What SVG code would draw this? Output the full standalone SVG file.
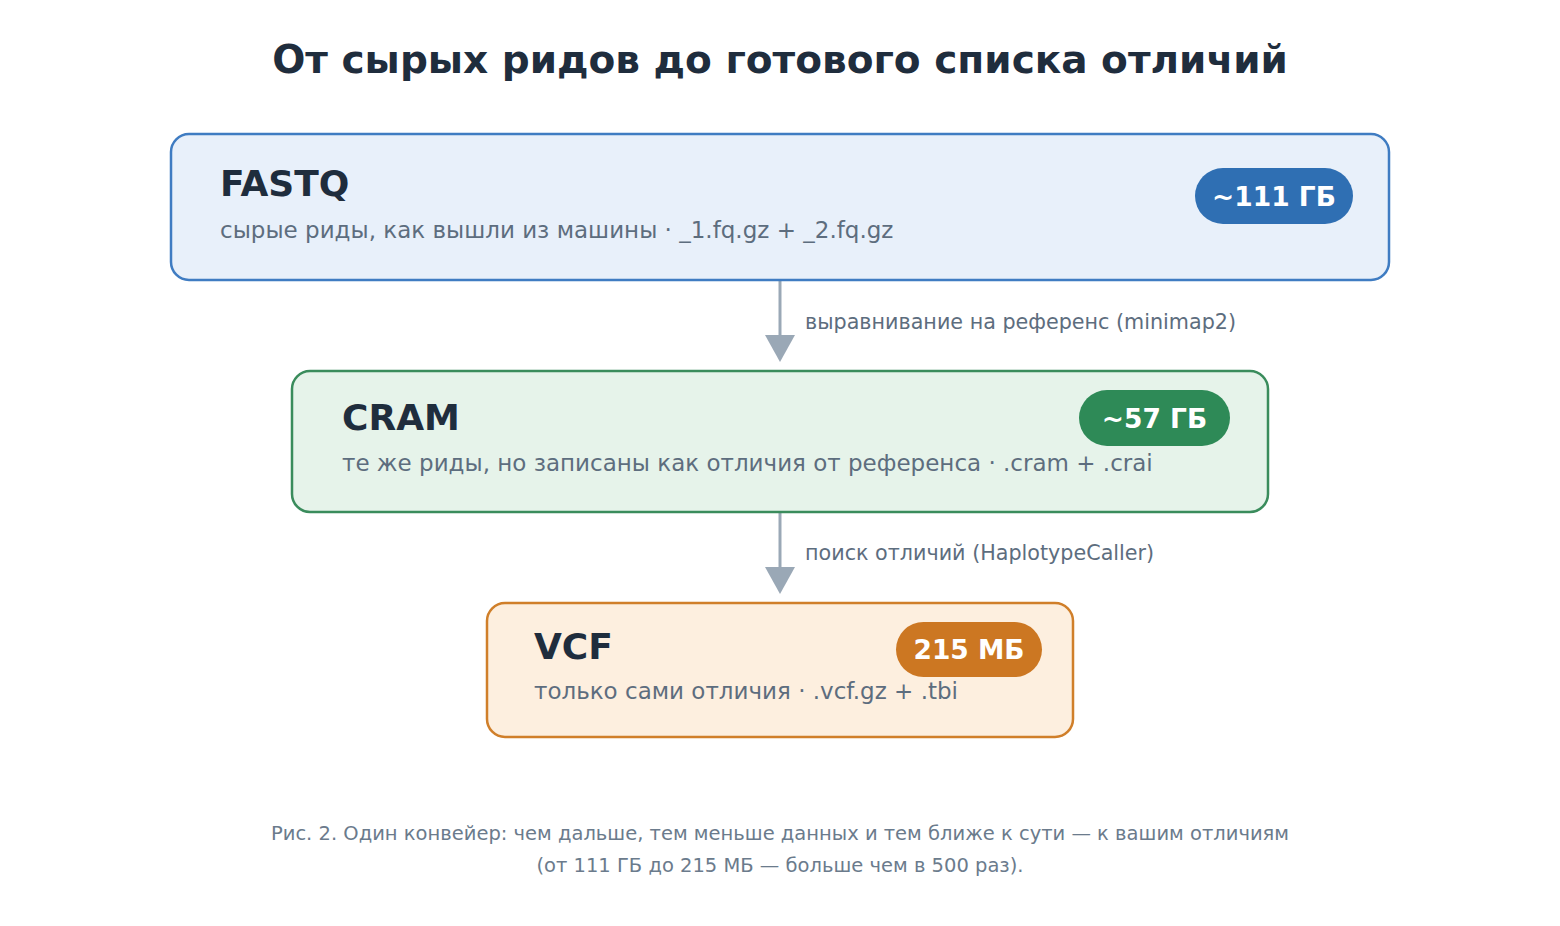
<svg xmlns="http://www.w3.org/2000/svg" width="1560" height="926" viewBox="0 0 1560 926">
<style>
text{font-family:"DejaVu Sans","Noto Sans",sans-serif}
.title{font-size:39px;font-weight:bold;fill:#1f2d3d}
.name{font-size:36px;font-weight:bold;fill:#1f2d3d}
.sub{font-size:23px;fill:#5d6d7e}
.badge{font-size:26.5px;font-weight:bold;fill:#ffffff}
.elab{font-size:20.7px;fill:#5d6d7e}
.cap{font-size:19.5px;fill:#6b7b8c}
.conn{stroke:#9aa8b6;stroke-width:3;fill:none}
.head{fill:#9aa8b6}
</style>
<rect width="1560" height="926" fill="#ffffff"/>
<text class="title" x="780" y="73" text-anchor="middle">От сырых ридов до готового списка отличий</text>
<g id="connectors">
<line class="conn" x1="780" y1="281" x2="780" y2="337"/>
<polygon class="head" points="765,335 795,335 780,362"/>
<text class="elab" x="805" y="329">выравнивание на референс (minimap2)</text>
<line class="conn" x1="780" y1="513" x2="780" y2="569"/>
<polygon class="head" points="765,567 795,567 780,594"/>
<text class="elab" x="805" y="560">поиск отличий (HaplotypeCaller)</text>
</g>
<g id="fastq">
<rect x="171" y="134" width="1218" height="146" rx="18" fill="#e8f0fa" stroke="#3f7cc2" stroke-width="2.5"/>
<text class="name" x="220" y="196">FASTQ</text>
<text class="sub" x="220" y="238">сырые риды, как вышли из машины · _1.fq.gz + _2.fq.gz</text>
<rect x="1195" y="168" width="158" height="56" rx="28" fill="#2f6fb3"/>
<text class="badge" x="1274" y="206" text-anchor="middle">~111 ГБ</text>
</g>
<g id="cram">
<rect x="292" y="371" width="976" height="141" rx="18" fill="#e6f3ea" stroke="#3a8c5c" stroke-width="2.5"/>
<text class="name" x="342" y="430">CRAM</text>
<text class="sub" x="342" y="471">те же риды, но записаны как отличия от референса · .cram + .crai</text>
<rect x="1079" y="390" width="151" height="56" rx="28" fill="#2e8a57"/>
<text class="badge" x="1154.5" y="428" text-anchor="middle">~57 ГБ</text>
</g>
<g id="vcf">
<rect x="487" y="603" width="586" height="134" rx="18" fill="#fdefdf" stroke="#d07f2a" stroke-width="2.5"/>
<text class="name" x="534" y="659">VCF</text>
<text class="sub" x="534" y="699">только сами отличия · .vcf.gz + .tbi</text>
<rect x="896" y="622" width="146" height="55" rx="27.5" fill="#cc7722"/>
<text class="badge" x="969" y="659" text-anchor="middle">215 МБ</text>
</g>
<text class="cap" x="780" y="840" text-anchor="middle">Рис. 2. Один конвейер: чем дальше, тем меньше данных и тем ближе к сути — к вашим отличиям</text>
<text class="cap" x="780" y="872" text-anchor="middle">(от 111 ГБ до 215 МБ — больше чем в 500 раз).</text>
</svg>
